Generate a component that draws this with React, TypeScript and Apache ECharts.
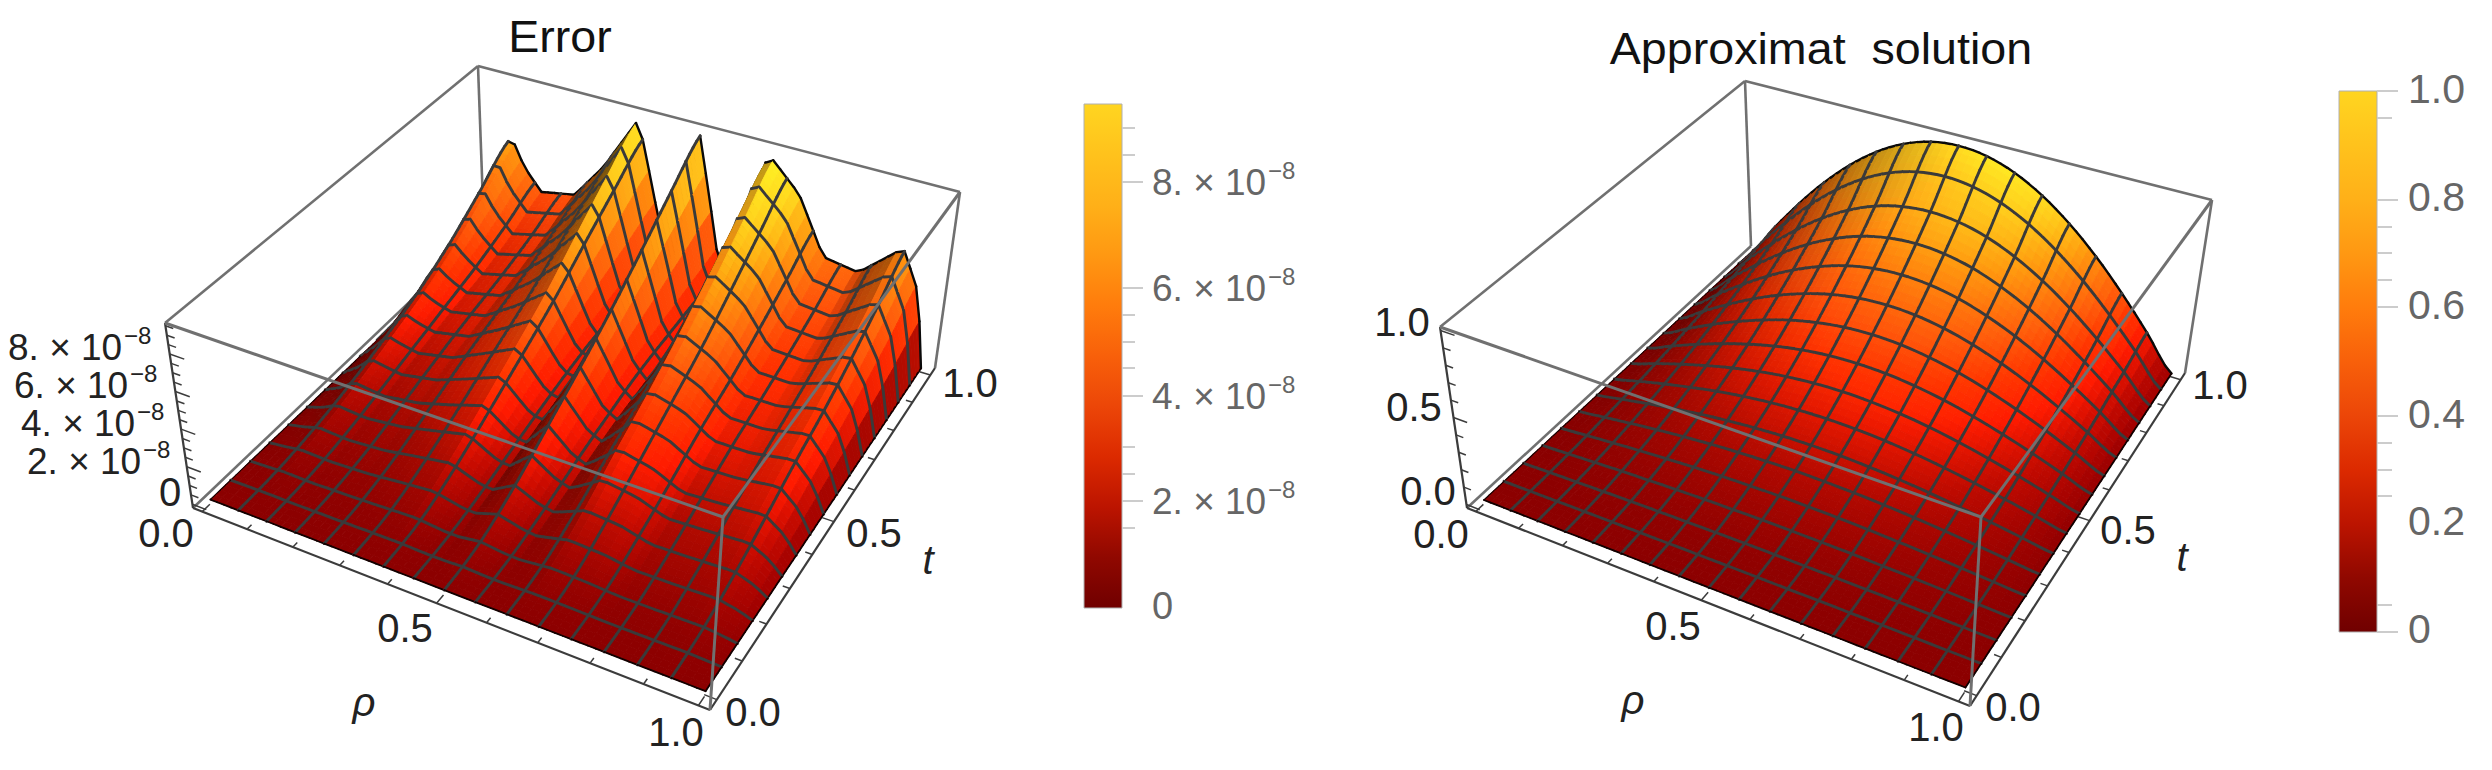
import React, { useEffect, useRef } from "react";
import * as echarts from "echarts";

type P = [number, number];

// ---------- data ----------
const T_ROWS = [0, 0.125, 0.25, 0.375, 0.5, 0.625, 0.75, 0.875, 1];

const ERR_RHO = [0, 0.04, 0.07, 0.1, 0.14, 0.22, 0.29, 0.365, 0.42, 0.45, 0.5, 0.55, 0.58, 0.645, 0.715, 0.775, 0.85, 0.935, 0.975, 1];
// error values, in units of 1e-8, one row per T_ROWS entry
const ERR_T000 = [0, 0, 0, 0, 0, 0, 0, 0, 0, 0, 0, 0, 0, 0, 0, 0, 0, 0, 0, 0];
const ERR_T125 = [0, 0.05, 0.1, 0.1, 0.08, 0.13, 0.2, 0.28, 0.15, 0.12, 0.3, 0.15, 0.12, 0.3, 0.25, 0.15, 0.16, 0.2, 0.1, 0];
const ERR_T250 = [0, 0.2, 0.45, 0.4, 0.35, 0.5, 0.8, 1.1, 0.6, 0.45, 1.15, 0.6, 0.45, 1.15, 1.0, 0.6, 0.65, 0.75, 0.4, 0];
const ERR_T375 = [0, 0.45, 1.0, 0.9, 0.8, 1.1, 1.6, 2.2, 1.2, 0.9, 2.3, 1.2, 0.9, 2.3, 1.9, 1.2, 1.3, 1.5, 0.8, 0];
const ERR_T500 = [0, 0.9, 1.7, 1.5, 1.3, 1.7, 2.5, 3.4, 1.8, 1.3, 3.5, 1.7, 1.3, 3.4, 2.9, 1.9, 1.9, 2.3, 1.3, 0];
const ERR_T625 = [0, 1.5, 2.5, 2.1, 1.8, 2.2, 3.3, 4.7, 2.3, 1.6, 4.8, 2.2, 1.5, 4.7, 3.8, 2.4, 2.4, 3.0, 1.8, 0];
const ERR_T750 = [0.2, 2.3, 3.6, 2.9, 2.2, 2.7, 4.2, 6.3, 2.7, 1.7, 6.3, 2.4, 1.6, 6.2, 5.0, 3.0, 2.9, 3.9, 2.4, 0];
const ERR_T875 = [1.2, 3.4, 5.0, 3.8, 2.8, 3.3, 5.2, 7.9, 3.0, 1.8, 7.9, 2.6, 1.6, 7.8, 6.3, 3.7, 3.5, 5.0, 3.1, 0];
const ERR_T1000 = [2.5, 5.0, 6.4, 4.8, 3.6, 4.0, 6.2, 9.4, 3.4, 1.8, 9.4, 2.8, 1.5, 9.4, 7.6, 4.5, 4.2, 6.2, 4.0, 0];

const SOL_RHO = [0, 0.0625, 0.125, 0.1875, 0.25, 0.3125, 0.375, 0.4375, 0.5, 0.5625, 0.625, 0.6875, 0.75, 0.8125, 0.875, 0.9375, 1];
const SOL_T000 = [0, 0, 0, 0, 0, 0, 0, 0, 0, 0, 0, 0, 0, 0, 0, 0, 0];
const SOL_T125 = [0, 0.003, 0.006, 0.009, 0.011, 0.013, 0.014, 0.015, 0.016, 0.015, 0.014, 0.013, 0.011, 0.009, 0.006, 0.003, 0];
const SOL_T250 = [0, 0.012, 0.024, 0.035, 0.044, 0.052, 0.058, 0.061, 0.063, 0.061, 0.058, 0.052, 0.044, 0.035, 0.024, 0.012, 0];
const SOL_T375 = [0, 0.027, 0.054, 0.078, 0.1, 0.117, 0.13, 0.138, 0.141, 0.138, 0.13, 0.117, 0.1, 0.078, 0.054, 0.027, 0];
const SOL_T500 = [0, 0.049, 0.096, 0.139, 0.177, 0.208, 0.231, 0.245, 0.25, 0.245, 0.231, 0.208, 0.177, 0.139, 0.096, 0.049, 0];
const SOL_T625 = [0, 0.076, 0.15, 0.217, 0.276, 0.325, 0.361, 0.384, 0.391, 0.384, 0.361, 0.325, 0.276, 0.217, 0.15, 0.076, 0];
const SOL_T750 = [0, 0.11, 0.215, 0.313, 0.398, 0.467, 0.52, 0.552, 0.5625, 0.552, 0.52, 0.467, 0.398, 0.313, 0.215, 0.11, 0];
const SOL_T875 = [0, 0.149, 0.293, 0.426, 0.542, 0.637, 0.708, 0.751, 0.766, 0.751, 0.708, 0.637, 0.542, 0.426, 0.293, 0.149, 0];
const SOL_T1000 = [0, 0.195, 0.383, 0.556, 0.707, 0.831, 0.924, 0.981, 1, 0.981, 0.924, 0.831, 0.707, 0.556, 0.383, 0.195, 0];

// colour ramp of the bar legends
const RAMP_STOPS = [0, 0.1, 0.2, 0.3, 0.4, 0.5, 0.6, 0.7, 0.8, 0.9, 1];
const RAMP_COLORS = ["#700000", "#900800", "#bc1400", "#dc2a00", "#ec4608", "#f8600a", "#ff7c0c", "#ff9812", "#ffb018", "#ffc21c", "#ffd520"];

const ERR_TITLE = "Error";
const SOL_TITLE = "Approximat  solution";
const AXIS_TICKS = ["0.0", "0.5", "1.0"];
const ERR_Z_MANTISSA = ["8. × 10", "6. × 10", "4. × 10", "2. × 10"];
const ERR_EXPONENT = "−8";
const SOL_BAR_LABELS = ["1.0", "0.8", "0.6", "0.4", "0.2", "0"];
const SOL_Z_LABELS = ["1.0", "0.5", "0.0"];

// ---------- projection ----------
function homography(q: P[]) {
  const [p0, p1, p2, p3] = q;
  const dx1 = p1[0] - p2[0], dx2 = p3[0] - p2[0], sx = p0[0] - p1[0] + p2[0] - p3[0];
  const dy1 = p1[1] - p2[1], dy2 = p3[1] - p2[1], sy = p0[1] - p1[1] + p2[1] - p3[1];
  const det = dx1 * dy2 - dx2 * dy1;
  const g = (sx * dy2 - dx2 * sy) / det;
  const h = (dx1 * sy - sx * dy1) / det;
  const a = p1[0] - p0[0] + g * p1[0], b = p3[0] - p0[0] + h * p3[0], c = p0[0];
  const d = p1[1] - p0[1] + g * p1[1], e = p3[1] - p0[1] + h * p3[1], f = p0[1];
  return (u: number, v: number): P => {
    const w = g * u + h * v + 1;
    return [(a * u + b * v + c) / w, (d * u + e * v + f) / w];
  };
}

function makeProjector(base: P[], top: P[]) {
  const hb = homography(base), ht = homography(top);
  return (u: number, v: number, w: number): P => {
    const p = hb(u, v), q = ht(u, v);
    return [p[0] + (q[0] - p[0]) * w, p[1] + (q[1] - p[1]) * w];
  };
}

function rampColor(v: number, shade: number) {
  const x = Math.max(0, Math.min(1, v));
  let k = 0;
  while (k < RAMP_STOPS.length - 2 && x > RAMP_STOPS[k + 1]) k++;
  const f = (x - RAMP_STOPS[k]) / (RAMP_STOPS[k + 1] - RAMP_STOPS[k]);
  const ch = (s: string, i: number) => parseInt(s.slice(1 + i * 2, 3 + i * 2), 16);
  const out = [0, 1, 2].map((i) => {
    const c = ch(RAMP_COLORS[k], i) + (ch(RAMP_COLORS[k + 1], i) - ch(RAMP_COLORS[k], i)) * f;
    return Math.max(0, Math.min(255, Math.round(c * shade)));
  });
  return `rgb(${out[0]},${out[1]},${out[2]})`;
}

function locate(grid: number[], x: number) {
  let k = 0;
  while (k < grid.length - 2 && x > grid[k + 1]) k++;
  return [k, (x - grid[k]) / (grid[k + 1] - grid[k])];
}

function cr(a: number, b: number, c: number, d: number, f: number) {
  return b + 0.5 * f * (c - a + f * (2 * a - 5 * b + 4 * c - d + f * (3 * (b - c) + d - a)));
}

function sampleTable(rows: number[][], rhoGrid: number[], rho: number, t: number, smoothRho: boolean) {
  const rowAt = (r: number[], x: number) => {
    const [k, f] = locate(rhoGrid, x);
    if (!smoothRho) return r[k] + (r[k + 1] - r[k]) * f;
    return cr(r[Math.max(0, k - 1)], r[k], r[k + 1], r[Math.min(r.length - 1, k + 2)], f);
  };
  const [j, g] = locate(T_ROWS, t);
  const a = rowAt(rows[Math.max(0, j - 1)], rho);
  const b = rowAt(rows[j], rho);
  const c = rowAt(rows[j + 1], rho);
  const d = rowAt(rows[Math.min(rows.length - 1, j + 2)], rho);
  return Math.max(0, cr(a, b, c, d, g));
}

const MESH = 16;
const LIGHT = [0.6, -0.25, 0.76];

function buildSurfaceSeries(cfg: any) {
  const { project, rows, rhoGrid, zMin, zMax, dataMax, sub, smooth, padR, padT, z } = cfg;
  const N = MESH * sub;
  const heights: number[][] = [];
  const pts: P[][] = [];
  for (let i = 0; i <= N; i++) {
    heights.push([]);
    pts.push([]);
    for (let j = 0; j <= N; j++) {
      const h = sampleTable(rows, rhoGrid, i / N, j / N, smooth);
      heights[i].push(h);
      pts[i].push(project(padR + (i / N) * (1 - 2 * padR), padT + (j / N) * (1 - 2 * padT), (h - zMin) / (zMax - zMin)));
    }
  }
  const data: number[][] = [];
  for (let i = 0; i < N; i++) for (let j = N - 1; j >= 0; j--) data.push([i, j]);
  const span = zMax - zMin;
  return {
    type: "custom",
    coordinateSystem: "cartesian2d",
    z,
    clip: false,
    silent: true,
    progressive: 0,
    data,
    renderItem(_p: any, api: any) {
      const i = api.value(0), j = api.value(1);
      const c = (a: number, b: number) => api.coord(pts[a][b]);
      const quad = [c(i, j), c(i + 1, j), c(i + 1, j + 1), c(i, j + 1)];
      const zm = (heights[i][j] + heights[i + 1][j] + heights[i + 1][j + 1] + heights[i][j + 1]) / 4;
      const dr = (((heights[i + 1][j] + heights[i + 1][j + 1] - heights[i][j] - heights[i][j + 1]) / 2) * N) / span;
      const dt = (((heights[i][j + 1] + heights[i + 1][j + 1] - heights[i][j] - heights[i + 1][j]) / 2) * N) / span;
      const nx = -dr * 0.4, ny = -dt * 0.4, len = Math.hypot(nx, ny, 1);
      const dot = (nx * LIGHT[0] + ny * LIGHT[1] + LIGHT[2]) / len;
      const lit = Math.max(0.28, 0.48 + 0.68 * dot);
      const v = zm / dataMax;
      const col = rampColor(v, lit * (1 + 0.25 * (1 - Math.min(1, v))));
      const children: any[] = [
        { type: "polygon", shape: { points: quad }, style: { fill: col, stroke: col, lineWidth: 0.9 } },
      ];
      const seg = (a: number[], b: number[], stroke: string, w: number) =>
        children.push({ type: "line", shape: { x1: a[0], y1: a[1], x2: b[0], y2: b[1] }, style: { stroke, lineWidth: w, lineCap: "round" } });
      if (j + 1 === N) seg(quad[3], quad[2], "#0a0a0a", 2.4);
      else if ((j + 1) % sub === 0) seg(quad[3], quad[2], "#3a3a3a", 2.9);
      if (i === 0) seg(quad[0], quad[3], "#1a0000", 1.2);
      else if (i % sub === 0) seg(quad[0], quad[3], "#3a3a3a", 2.9);
      if (i === N - 1) seg(quad[1], quad[2], "#120000", 1.8);
      if (j === 0) seg(quad[0], quad[1], "#120000", 1.8);
      return { type: "group", children };
    },
  };
}

// box coordinates of an edge: [u, v, w, u, v, w]
const BACK_EDGES = [
  [0, 1, 0, 0, 1, 1],
  [0, 0, 1, 0, 1, 1],
  [0, 1, 1, 1, 1, 1],
  [1, 1, 0, 1, 1, 1],
  [0, 0, 0, 0, 1, 0],
];
const AXIS_EDGES = [
  [0, 0, 0, 0, 0, 1],
  [0, 0, 0, 1, 0, 0],
  [1, 0, 0, 1, 1, 0],
];
const FRONT_EDGES = [
  [0, 0, 1, 1, 0, 1],
  [1, 0, 1, 1, 1, 1],
  [1, 0, 0, 1, 0, 1],
];

function lineSeries(project: any, list: number[][], stroke: string, width: number, z: number) {
  return {
    type: "custom",
    coordinateSystem: "cartesian2d",
    z,
    clip: false,
    silent: true,
    data: list.map((_e, k) => [k]),
    renderItem(_p: any, api: any) {
      const e = list[api.value(0)];
      const a = api.coord(project(e[0], e[1], e[2]));
      const b = api.coord(project(e[3], e[4], e[5]));
      return { type: "line", shape: { x1: a[0], y1: a[1], x2: b[0], y2: b[1] }, style: { stroke, lineWidth: width } };
    },
  };
}

function tickEdges(padR: number, padT: number, zMin: number, zMax: number, zTicks: number[], zMajor: number) {
  const out: number[][] = [];
  const vals = [0, 0.1, 0.2, 0.3, 0.4, 0.5, 0.6, 0.7, 0.8, 0.9, 1];
  vals.forEach((v, k) => {
    const len = k % 5 === 0 ? 0.022 : 0.013;
    const r = padR + v * (1 - 2 * padR), t = padT + v * (1 - 2 * padT);
    out.push([r, 0, 0, r, len, 0]);
    out.push([1, t, 0, 1 - len, t, 0]);
  });
  zTicks.forEach((v, k) => {
    const w = (v - zMin) / (zMax - zMin);
    out.push([0, 0, w, k % zMajor === 0 ? 0.03 : 0.016, 0, w]);
  });
  return out;
}

const LEFT_BOX = {
  base: [[193, 508], [710, 710], [935, 368], [484, 231]] as P[],
  top: [[165, 323], [723, 517], [960, 192], [478, 66]] as P[],
};
const RIGHT_BOX = {
  base: [[1467, 508], [1970, 706], [2185, 373], [1751, 246]] as P[],
  top: [[1440, 327], [1981, 517], [2212, 200], [1745, 81]] as P[],
};

const ERR_Z_TICKS = [0, 0.5, 1, 1.5, 2, 2.5, 3, 3.5, 4, 4.5, 5, 5.5, 6, 6.5, 7, 7.5, 8, 8.5, 9, 9.5];
const SOL_Z_TICKS = [0, 0.1, 0.2, 0.3, 0.4, 0.5, 0.6, 0.7, 0.8, 0.9, 1];

const FONT = "'Liberation Sans', Arial, sans-serif";
function txt(x: number, y: number, text: string, size: number, fill: string, extra: any = {}) {
  const { scaleX, ...style } = extra;
  return {
    type: "text",
    x,
    y,
    scaleX: scaleX ?? 1,
    z: 50,
    silent: true,
    style: { text, fontSize: size, fontFamily: FONT, fill, align: "center", verticalAlign: "middle", ...style },
  };
}
function expLabel(x: number, y: number, mantissa: string, fill: string) {
  return [
    txt(x, y, mantissa, 37, fill, { align: "left" }),
    txt(x + 116, y - 12, ERR_EXPONENT, 24, fill, { align: "left" }),
  ];
}

function bar(x0: number, x1: number, y0: number, y1: number) {
  return {
    type: "rect",
    z: 40,
    silent: true,
    shape: { x: x0, y: y0, width: x1 - x0, height: y1 - y0 },
    style: {
      stroke: "#b0b0b0",
      lineWidth: 1,
      fill: new echarts.graphic.LinearGradient(
        0, 1, 0, 0,
        RAMP_STOPS.map((s, k) => ({ offset: s, color: RAMP_COLORS[k] }))
      ),
    },
  };
}
function hTick(x0: number, x1: number, y: number) {
  return { type: "line", z: 40, silent: true, shape: { x1: x0, y1: y, x2: x1, y2: y }, style: { stroke: "#cccccc", lineWidth: 2 } };
}

const ERR_BAR_MAJOR = [182, 288, 396, 501];
const ERR_BAR_MINOR = [128, 155, 315, 342, 368, 447, 474, 528];
const SOL_BAR_MAJOR = [91, 200, 307, 416, 632];
const SOL_BAR_MINOR = [118, 227, 253, 280, 443, 470, 496, 605];
const SOL_BAR_LABEL_Y = [89, 197, 305, 414, 521, 629];

export default function App() {
  const ref = useRef<HTMLDivElement>(null);
  useEffect(() => {
    document.body.style.margin = "0";
    const chart = echarts.init(ref.current!, null, { renderer: "svg" });
    const pL = makeProjector(LEFT_BOX.base, LEFT_BOX.top);
    const pR = makeProjector(RIGHT_BOX.base, RIGHT_BOX.top);
    const padR = 0.02, padT = 0.025;
    const GRAY = "#707070", DARK = "#3c3c3c";
    const errRows = [ERR_T000, ERR_T125, ERR_T250, ERR_T375, ERR_T500, ERR_T625, ERR_T750, ERR_T875, ERR_T1000];
    const solRows = [SOL_T000, SOL_T125, SOL_T250, SOL_T375, SOL_T500, SOL_T625, SOL_T750, SOL_T875, SOL_T1000];
    const errZ = [-0.2, 9.65], solZ = [-0.02, 1.02];
    const LBL = 40;

    const graphicEls: any[] = [
      txt(560, 37, ERR_TITLE, 44, "#111", { scaleX: 1.06 }),
      txt(1821, 49, SOL_TITLE, 44, "#111", { scaleX: 1.06 }),
      // left axes
      ...expLabel(8, 347, ERR_Z_MANTISSA[0], "#222"),
      ...expLabel(14, 385, ERR_Z_MANTISSA[1], "#222"),
      ...expLabel(21, 423, ERR_Z_MANTISSA[2], "#222"),
      ...expLabel(27, 461, ERR_Z_MANTISSA[3], "#222"),
      txt(170, 492, "0", LBL, "#222"),
      txt(166, 533, AXIS_TICKS[0], LBL, "#222"),
      txt(405, 628, AXIS_TICKS[1], LBL, "#222"),
      txt(676, 732, AXIS_TICKS[2], LBL, "#222"),
      txt(753, 712, AXIS_TICKS[0], LBL, "#222"),
      txt(874, 533, AXIS_TICKS[1], LBL, "#222"),
      txt(970, 383, AXIS_TICKS[2], LBL, "#222"),
      txt(364, 702, "ρ", LBL, "#222", { fontStyle: "italic" }),
      txt(928, 560, "t", LBL, "#222", { fontStyle: "italic" }),
      // right axes
      txt(1402, 322, SOL_Z_LABELS[0], LBL, "#222"),
      txt(1414, 407, SOL_Z_LABELS[1], LBL, "#222"),
      txt(1428, 491, SOL_Z_LABELS[2], LBL, "#222"),
      txt(1441, 534, AXIS_TICKS[0], LBL, "#222"),
      txt(1673, 626, AXIS_TICKS[1], LBL, "#222"),
      txt(1936, 727, AXIS_TICKS[2], LBL, "#222"),
      txt(2013, 707, AXIS_TICKS[0], LBL, "#222"),
      txt(2128, 530, AXIS_TICKS[1], LBL, "#222"),
      txt(2220, 385, AXIS_TICKS[2], LBL, "#222"),
      txt(1633, 700, "ρ", LBL, "#222", { fontStyle: "italic" }),
      txt(2182, 557, "t", LBL, "#222", { fontStyle: "italic" }),
      // left bar
      bar(1084, 1122, 104, 608),
      ...ERR_BAR_MAJOR.map((y) => hTick(1122, 1143, y)),
      ...ERR_BAR_MINOR.map((y) => hTick(1122, 1135, y)),
      ...ERR_BAR_MAJOR.flatMap((y, k) => expLabel(1152, y, ERR_Z_MANTISSA[k], "#666")),
      txt(1152, 606, "0", 38, "#666", { align: "left" }),
      // right bar
      bar(2339, 2377, 91, 632),
      ...SOL_BAR_MAJOR.map((y) => hTick(2377, 2398, y)),
      ...SOL_BAR_MINOR.map((y) => hTick(2377, 2392, y)),
      ...SOL_BAR_LABELS.map((s, k) => txt(2408, SOL_BAR_LABEL_Y[k], s, 41, "#666", { align: "left" })),
    ];

    chart.setOption({
      animation: false,
      backgroundColor: "#fff",
      grid: { left: 0, right: 0, top: 0, bottom: 0 },
      xAxis: { type: "value", min: 0, max: 2492, show: false },
      yAxis: { type: "value", min: 0, max: 770, inverse: true, show: false },
      graphic: graphicEls,
      series: [
        lineSeries(pL, BACK_EDGES, GRAY, 2.6, 1),
        lineSeries(pL, AXIS_EDGES, DARK, 2.2, 1),
        lineSeries(pL, tickEdges(padR, padT, errZ[0], errZ[1], ERR_Z_TICKS, 4), DARK, 1.5, 1),
        buildSurfaceSeries({ project: pL, rows: errRows, rhoGrid: ERR_RHO, zMin: errZ[0], zMax: errZ[1], dataMax: 9.4, sub: 4, smooth: false, padR, padT, z: 2 }),
        lineSeries(pL, FRONT_EDGES, GRAY, 3, 3),
        lineSeries(pR, BACK_EDGES, GRAY, 2.6, 1),
        lineSeries(pR, AXIS_EDGES, DARK, 2.2, 1),
        lineSeries(pR, tickEdges(padR, padT, solZ[0], solZ[1], SOL_Z_TICKS, 5), DARK, 1.5, 1),
        buildSurfaceSeries({ project: pR, rows: solRows, rhoGrid: SOL_RHO, zMin: solZ[0], zMax: solZ[1], dataMax: 1, sub: 4, smooth: true, padR, padT, z: 2 }),
        lineSeries(pR, FRONT_EDGES, GRAY, 3, 3),
      ],
    });
    return () => chart.dispose();
  }, []);
  return <div ref={ref} style={{ width: 2492, height: 770 }} />;
}
